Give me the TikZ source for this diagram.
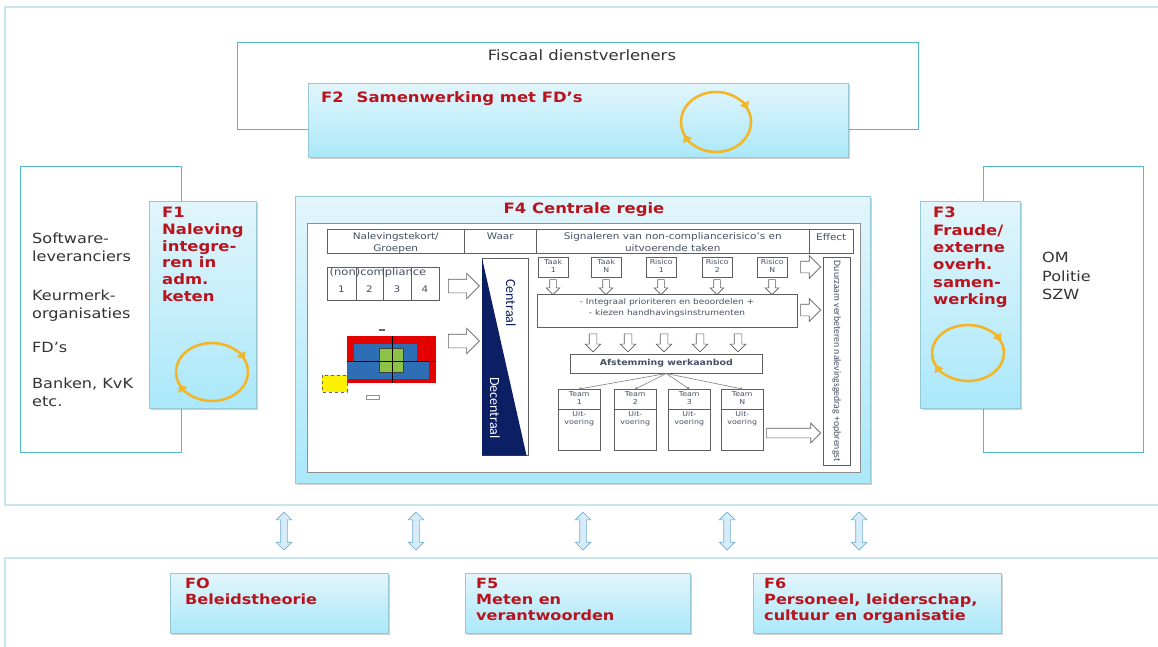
\documentclass[tikz,border=0pt]{standalone}
\usepackage{fontspec}
\setmainfont[FakeStretch=1.15]{DejaVu Sans}
\newfontfamily\calfont{Carlito}
\usetikzlibrary{positioning,shapes.arrows,shadows,arrows.meta}

\definecolor{framebl}{RGB}{200,228,238}
\definecolor{tealln}{RGB}{80,185,210}
\definecolor{boxtop}{RGB}{226,245,251}
\definecolor{boxbot}{RGB}{170,232,250}
\definecolor{boxedge}{RGB}{150,200,215}
\definecolor{fred}{RGB}{185,20,30}
\definecolor{loopor}{RGB}{242,182,40}
\definecolor{navy}{RGB}{12,30,100}
\definecolor{greyln}{RGB}{95,95,95}
\definecolor{greytx}{RGB}{70,80,100}
\definecolor{heatblue}{RGB}{45,110,180}
\definecolor{heatgreen}{RGB}{140,195,70}
\definecolor{arrfill}{RGB}{215,236,248}
\definecolor{arrline}{RGB}{110,175,210}

\tikzset{
  frame/.style={draw=framebl, line width=2.5pt},
  party/.style={draw=tealln, line width=1.4pt, inner sep=0pt, anchor=north west},
  fbox/.style={draw=boxedge, line width=.6pt, top color=boxtop, bottom color=boxbot,
    inner sep=0pt, anchor=north west,
    drop shadow={shadow xshift=1.5pt, shadow yshift=-2pt, opacity=.3, fill=black!60}},
  ftitle/.style={text=fred, font=\bfseries\fontsize{14.3}{16.7}\selectfont, align=left, inner sep=0pt, anchor=north west},
  partytext/.style={text=black!80, font=\fontsize{14}{17.5}\selectfont, align=left, inner sep=0pt, anchor=north west},
  cell/.style={draw=greyln, line width=.5pt, fill=white, inner sep=0pt, anchor=north west},
  hdtext/.style={text=greytx, font=\fontsize{9.1}{12}\selectfont, align=center, inner sep=0pt},
  tiny/.style={text=greytx, font=\fontsize{6.8}{8.2}\selectfont, align=center, inner sep=0pt},
  % shaft half width, head overhang, length
  hollow/.style n args={3}{single arrow, draw=greyln, fill=white, line width=.6pt,
    inner xsep=0pt, inner ysep=#1, single arrow head extend=#2, minimum height=#3},
  twoway/.style={double arrow, draw=arrline, fill=arrfill, line width=.7pt, inner xsep=0pt, inner ysep=3pt,
    minimum height=38pt, double arrow head extend=4.5pt, rotate=90},
  loopline/.style={draw=loopor, line width=2.6pt, -{Triangle[length=7pt,width=10pt]}},
}

% clockwise loop: centre, x radius, y radius
\newcommand{\fdloop}[3]{%
  \begin{scope}[shift={#1}, yscale=-1]
    \draw[loopline] (210:#2 and #3) arc[start angle=210, end angle=25, x radius=#2, y radius=#3];
    \draw[loopline] (30:#2 and #3) arc[start angle=30, end angle=-155, x radius=#2, y radius=#3];
  \end{scope}}

\begin{document}
\begin{tikzpicture}[x=1pt,y=-1pt]
\useasboundingbox (0,0) rectangle (1158,647);
\clip (0,0) rectangle (1158,647);

% frames
\draw[frame] (5,7) rectangle (1175,505);
\draw[frame] (5,558) rectangle (1175,670);

% outside parties
\node[party, minimum width=681pt, minimum height=87pt] (fdbox) at (237,42) {};
\node[party, minimum width=161pt, minimum height=286pt] (softbox) at (20,166) {};
\node[party, minimum width=160pt, minimum height=286pt] (ombox) at (983,166) {};

\node[text=black!80, font=\fontsize{14.3}{17}\selectfont] (fdtext) at (582,55) {Fiscaal dienstverleners};
\node[partytext] (sw) at (32,233) {Software-\\leveranciers};
\node[partytext] (km) at (32,290) {Keurmerk-\\organisaties};
\node[partytext] (fd) at (32,342) {FD’s};
\node[partytext] (bk) at (32,378) {Banken, KvK\\etc.};
\node[partytext, font=\fontsize{14}{18.5}\selectfont] (om) at (1042,252) {OM\\Politie\\SZW};

% F1, F2, F3
\node[fbox, minimum width=540pt, minimum height=74pt] (f2) at (308,83) {};
\node[ftitle] (f2t) at (321,91) {F2\hspace{0.5em} Samenwerking met FD’s};
\fdloop{(716,122)}{35}{30}

\node[fbox, minimum width=107pt, minimum height=207pt] (f1) at (149,201) {};
\node[ftitle] (f1t) at (162,207) {F1\\Naleving\\integre-\\ren in\\adm.\\keten};
\fdloop{(212,372)}{36}{29}

\node[fbox, minimum width=100pt, minimum height=207pt] (f3) at (920,201) {};
\node[ftitle, font=\bfseries\fontsize{14.3}{17.3}\selectfont] (f3t) at (933,207) {F3\\Fraude/\\externe\\overh.\\samen-\\werking};
\fdloop{(968,353)}{36}{28}

% F4
\node[fbox, minimum width=575pt, minimum height=287pt] (f4) at (295,196) {};
\node[text=fred, font=\bfseries\fontsize{14.3}{17}\selectfont] (f4t) at (584,210) {F4 Centrale regie};
\node[draw=greyln!70, fill=white, line width=.5pt, inner sep=0pt, anchor=north west,
  minimum width=553pt, minimum height=249pt] (panel) at (307,223) {};

% header row
\node[cell, minimum width=137pt, minimum height=24pt] (hd1) at (327,229) {};
\node[cell, minimum width=72pt, minimum height=24pt] (hd2) at (464,229) {};
\node[cell, minimum width=273pt, minimum height=24pt] (hd3) at (536,229) {};
\node[cell, minimum width=44pt, minimum height=24pt] (hd4) at (809,229) {};
\node[hdtext, below=3pt of hd1.north] {Nalevingstekort/\\Groepen};
\node[hdtext, below=4pt of hd2.north] {Waar};
\node[hdtext, below=3pt of hd3.north] {Signaleren van non-compliancerisico’s en\\uitvoerende taken};
\node[hdtext, below=4pt of hd4.north] {Effect};

% compliance levels
\node[cell, minimum width=112pt, minimum height=33pt] (levels) at (327,267) {};
\foreach \x in {356,383,411}
  \draw[greyln, line width=.5pt] (\x,267) -- (\x,300);
\node[text=greytx, font=\fontsize{10}{12}\selectfont, inner sep=0pt] (nc) at (378,273) {(non)compliance};
\foreach \x/\n in {341.5/1, 369.5/2, 397/3, 425/4}
  \node[text=greytx, font=\fontsize{9}{10}\selectfont, inner sep=0pt] (lv\n) at (\x,289) {\n};

% heat map
\fill[red!90!black] (347,336) rectangle (436,383);
\fill[heatblue] (354,344) rectangle (417,361);
\fill[heatblue] (347,361) rectangle (429,379);
\draw[black!75, fill=heatgreen, line width=.8pt] (379,348) rectangle (403,372);
\draw[black, line width=.5pt] (392,336) -- (392,383);
\draw[black, line width=.5pt] (347,361) -- (436,361);
\draw[black!60, line width=1.2pt] (379,330) -- (385,330);
\draw[black!60, dashed, fill=yellow, line width=.5pt] (322,375) rectangle (347,392);
\draw[greyln!70, line width=.5pt] (366,395) rectangle (379,399);

\node[hollow={6.5pt}{6pt}{31pt}] (toc1) at (460.5,286) {};
\node[hollow={6.5pt}{6pt}{31pt}] (toc2) at (460.5,341) {};

% central / decentral
\node[cell, minimum width=46pt, minimum height=197pt] (waar) at (482,258) {};
\fill[navy] (waar.north west) -- (waar.south west) -- ([xshift=-2pt]waar.south east) -- cycle;
\node[rotate=-90, text=navy, font=\calfont\fontsize{14}{16}\selectfont, inner sep=0pt] (centr) at (511,303) {Centraal};
\node[rotate=-90, text=white, font=\calfont\fontsize{14}{16}\selectfont, inner sep=0pt] (decentr) at (495,408) {Decentraal};

% signals
\foreach \lab/\num/\x [count=\i] in {Taak/1/538, Taak/N/591, Risico/1/646, Risico/2/702, Risico/N/757} {
  \node[cell, minimum width=30pt, minimum height=20pt] (sig\i) at (\x,257) {};
  \node[tiny, below=2pt of sig\i.north] {\lab\\\num};
  \node[hollow={3pt}{3.5pt}{15pt}, rotate=-90] (sdown\i) at (\x+15,285.5) {};
}
\node[cell, minimum width=260pt, minimum height=33pt] (integ) at (537,294) {};
\node[text=greytx, font=\fontsize{7.8}{11}\selectfont, align=center, inner sep=0pt] (integt) at (667,308)
  {- Integraal prioriteren en beoordelen +\\- kiezen handhavingsinstrumenten};
\foreach \x [count=\i] in {593,628,664,700,738}
  \node[hollow={3.5pt}{4pt}{18pt}, rotate=-90] (mdown\i) at (\x,341) {};
\node[cell, minimum width=192pt, minimum height=19pt] (afst) at (570,354) {};
\node[text=greytx, font=\bfseries\fontsize{8.2}{10}\selectfont, inner sep=0pt] (afstt) at (afst.center) {Afstemming werkaanbod};

% teams
\foreach \x/\num [count=\i] in {558/1, 614/2, 668/3, 721/N} {
  \node[cell, minimum width=42pt, minimum height=61pt] (team\i) at (\x,389) {};
  \draw[greyln, line width=.5pt] ([yshift=-20pt]team\i.north west) -- ([yshift=-20pt]team\i.north east);
  \node[tiny, below=2pt of team\i.north] {Team\\\num};
  \node[tiny, below=22pt of team\i.north] {Uit-\\voering};
  \draw[greyln!80, line width=.6pt, -{Circle[length=2.5pt]}] (afst.south) -- (team\i.north);
}

% effect
\node[cell, minimum width=27pt, minimum height=208pt] (effect) at (823,257) {};
\node[rotate=-90, text=greytx, font=\calfont\fontsize{9.8}{11}\selectfont, inner sep=0pt] (effectt) at (effect.center)
  {Duurzaam verbeteren nalevingsgedrag +opbrengst};
\node[hollow={5.5pt}{5.5pt}{20pt}, anchor=tip] (eff1) at (821,267) {};
\node[hollow={5.5pt}{5.5pt}{20pt}, anchor=tip] (eff2) at (821,310) {};
\node[hollow={4.5pt}{5pt}{54pt}, anchor=tip] (eff3) at (821,433) {};

% links to the base functions
\foreach \x [count=\i] in {284,416,583,727,859}
  \node[twoway] (link\i) at (\x,531) {};

% base functions
\node[fbox, minimum width=218pt, minimum height=60pt] (f0) at (170,573) {};
\node[ftitle, font=\bfseries\fontsize{14}{16}\selectfont] (f0t) at (185,578) {FO\\Beleidstheorie};
\node[fbox, minimum width=225pt, minimum height=60pt] (f5) at (465,573) {};
\node[ftitle, font=\bfseries\fontsize{14}{16}\selectfont] (f5t) at (476,578) {F5\\Meten en\\verantwoorden};
\node[fbox, minimum width=248pt, minimum height=60pt] (f6) at (753,573) {};
\node[ftitle, font=\bfseries\fontsize{14}{16}\selectfont] (f6t) at (764,578) {F6\\Personeel, leiderschap,\\cultuur en organisatie};
\end{tikzpicture}
\end{document}
